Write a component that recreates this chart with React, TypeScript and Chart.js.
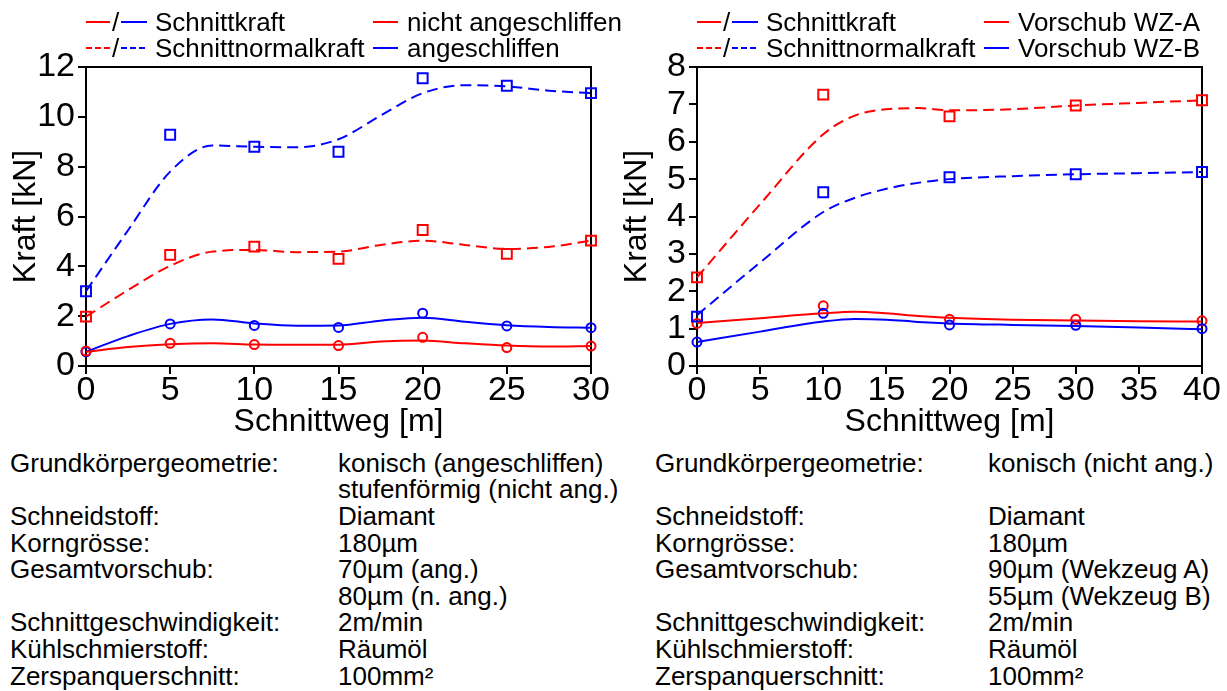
import React, { useEffect, useRef } from "react";
import { Chart, registerables } from "chart.js";

Chart.register(...registerables);

const RED = "#ff0000";
const BLUE = "#0000ff";
const FONT = "'Liberation Sans', Arial, Helvetica, sans-serif";

// ---- Linkes Diagramm: angeschliffen / nicht angeschliffen ----
const xLeft = [0, 5, 10, 15, 20, 25, 30];
const normalAng = [3.0, 9.28, 8.8, 8.6, 11.55, 11.25, 10.95];
const normalNichtAng = [1.98, 4.46, 4.79, 4.3, 5.46, 4.5, 5.03];
const schnittAng = [0.57, 1.69, 1.63, 1.55, 2.12, 1.61, 1.54];
const schnittNichtAng = [0.6, 0.91, 0.86, 0.82, 1.15, 0.74, 0.8];

// Ausgleichskurven (links)
const fitXLeft = [0, 2.5, 5, 7.5, 10, 12.5, 15, 17.5, 20, 22.5, 25, 27.5, 30];
const fitNormalAng = [3.0, 5.45, 7.8, 8.85, 8.8, 8.78, 9.1, 10.05, 10.95, 11.27, 11.22, 11.05, 10.95];
const fitNormalNichtAng = [1.98, 3.05, 4.02, 4.59, 4.66, 4.57, 4.59, 4.86, 5.03, 4.86, 4.7, 4.78, 5.03];
const fitSchnittAng = [0.57, 1.2, 1.69, 1.87, 1.71, 1.62, 1.63, 1.82, 1.94, 1.78, 1.64, 1.57, 1.54];
const fitSchnittNichtAng = [0.57, 0.76, 0.87, 0.91, 0.86, 0.85, 0.85, 0.98, 1.02, 0.91, 0.82, 0.78, 0.8];

// ---- Rechtes Diagramm: Vorschub WZ-A / WZ-B ----
const xRight = [0, 10, 20, 30, 40];
const normalA = [2.37, 7.26, 6.68, 6.97, 7.11];
const normalB = [1.32, 4.65, 5.05, 5.13, 5.19];
const schnittA = [1.14, 1.61, 1.25, 1.25, 1.21];
const schnittB = [0.64, 1.41, 1.1, 1.09, 1.0];

// Ausgleichskurven (rechts)
const fitXRight = [0, 5, 10, 12.5, 15, 17.5, 20, 25, 30, 35, 40];
const fitNormalA = [2.37, 4.33, 6.2, 6.7, 6.87, 6.9, 6.84, 6.87, 6.97, 7.04, 7.11];
const fitNormalB = [1.36, 2.77, 4.12, 4.5, 4.74, 4.9, 5.0, 5.08, 5.13, 5.16, 5.19];
const fitSchnittA = [1.15, 1.28, 1.41, 1.45, 1.41, 1.34, 1.29, 1.24, 1.22, 1.2, 1.19];
const fitSchnittB = [0.64, 0.92, 1.19, 1.26, 1.24, 1.18, 1.14, 1.1, 1.07, 1.03, 0.98];

// Achsen
const leftXMax = 30;
const leftYMax = 12;
const leftYStep = 2;
const rightXMax = 40;
const rightYMax = 8;
const rightYStep = 1;
const xStep = 5;
const xTitle = "Schnittweg [m]";
const yTitle = "Kraft [kN]";

// Legenden
const legendMain = ["Schnittkraft", "Schnittnormalkraft"];
const legendLeftSide = ["nicht angeschliffen", "angeschliffen"];
const legendRightSide = ["Vorschub WZ-A", "Vorschub WZ-B"];

// Versuchsbedingungen
const specsLeft: [string, string][] = [
  ["Grundkörpergeometrie:", "konisch (angeschliffen)"],
  ["", "stufenförmig (nicht ang.)"],
  ["Schneidstoff:", "Diamant"],
  ["Korngrösse:", "180µm"],
  ["Gesamtvorschub:", "70µm (ang.)"],
  ["", "80µm (n. ang.)"],
  ["Schnittgeschwindigkeit:", "2m/min"],
  ["Kühlschmierstoff:", "Räumöl"],
  ["Zerspanquerschnitt:", "100mm²"],
];
const specsRight: [string, string][] = [
  ["Grundkörpergeometrie:", "konisch (nicht ang.)"],
  ["", ""],
  ["Schneidstoff:", "Diamant"],
  ["Korngrösse:", "180µm"],
  ["Gesamtvorschub:", "90µm (Wekzeug A)"],
  ["", "55µm (Wekzeug B)"],
  ["Schnittgeschwindigkeit:", "2m/min"],
  ["Kühlschmierstoff:", "Räumöl"],
  ["Zerspanquerschnitt:", "100mm²"],
];

const pts = (xs: number[], ys: number[]) => xs.map((x, i) => ({ x, y: ys[i] }));

function curve(xs: number[], ys: number[], color: string, dashed: boolean) {
  return {
    data: pts(xs, ys),
    borderColor: color,
    borderWidth: 2,
    borderDash: dashed ? [11, 6] : [],
    pointRadius: 0,
    showLine: true,
    fill: false,
    cubicInterpolationMode: "monotone",
    clip: false,
  };
}

function markers(xs: number[], ys: number[], color: string, style: string) {
  return {
    data: pts(xs, ys),
    showLine: false,
    pointStyle: style,
    pointRadius: style === "rect" ? 7 : 4.5,
    pointBorderWidth: 2,
    pointBorderColor: color,
    pointBackgroundColor: "rgba(0,0,0,0)",
    borderColor: color,
    clip: false,
  };
}

const framePlugin = {
  id: "frame",
  beforeDatasetsDraw(chart: any) {
    const { ctx, chartArea } = chart;
    const { left, top, right, bottom } = chartArea;
    ctx.save();
    ctx.strokeStyle = "#000";
    ctx.lineWidth = 2;
    ctx.strokeRect(left, top, right - left, bottom - top);
    ctx.restore();
  },
};

const CANVAS_W = 615;
const CANVAS_H = 396;

function ForceChart(props: { datasets: any[]; xMax: number; yMax: number; yStep: number; left: number }) {
  const ref = useRef<HTMLCanvasElement | null>(null);
  useEffect(() => {
    if (!ref.current) return;
    const chart = new Chart(ref.current, {
      type: "line",
      data: { datasets: props.datasets },
      plugins: [framePlugin],
      options: {
        animation: false,
        responsive: false,
        devicePixelRatio: 1,
        layout: { padding: { top: 22, right: 24, bottom: 0, left: 0 } },
        plugins: { legend: { display: false }, tooltip: { enabled: false } },
        scales: {
          x: {
            type: "linear",
            min: 0,
            max: props.xMax,
            ticks: {
              stepSize: xStep,
              color: "#000",
              padding: 0,
              maxRotation: 0,
              autoSkip: false,
              font: { family: FONT, size: 34, lineHeight: 1 },
            },
            grid: { drawOnChartArea: false, drawTicks: true, tickLength: 8, color: "#000", lineWidth: 2 },
            border: { display: true, color: "#000", width: 2 },
            title: {
              display: true,
              text: xTitle,
              color: "#000",
              font: { family: FONT, size: 32, lineHeight: 1.2 },
              padding: { top: 0, bottom: 0 },
            },
            afterFit: (s: any) => {
              s.height = 75;
            },
          },
          y: {
            type: "linear",
            min: 0,
            max: props.yMax,
            ticks: {
              stepSize: props.yStep,
              color: "#000",
              padding: 3,
              font: { family: FONT, size: 34, lineHeight: 1 },
            },
            grid: { drawOnChartArea: false, drawTicks: true, tickLength: 8, color: "#000", lineWidth: 2 },
            border: { display: true, color: "#000", width: 2 },
            title: {
              display: true,
              text: yTitle,
              color: "#000",
              font: { family: FONT, size: 32, lineHeight: 1.2 },
              padding: { top: 7, bottom: 0 },
            },
            afterFit: (s: any) => {
              s.width = 86;
            },
          },
        },
      } as any,
    });
    return () => chart.destroy();
  }, []);
  return (
    <canvas
      ref={ref}
      width={CANVAS_W}
      height={CANVAS_H}
      style={{ position: "absolute", left: props.left, top: 45, width: CANVAS_W, height: CANVAS_H }}
    />
  );
}

function Swatch(props: { x: number; y: number; w: number; color: string; dashed?: boolean }) {
  const bg = props.dashed
    ? `repeating-linear-gradient(to right, ${props.color} 0px, ${props.color} 6px, transparent 6px, transparent 9px)`
    : props.color;
  return (
    <div style={{ position: "absolute", left: props.x, top: props.y - 1, width: props.w, height: 2, background: bg }} />
  );
}

function Label(props: { x: number; y: number; text: string; size?: number }) {
  return (
    <div
      style={{
        position: "absolute",
        left: props.x,
        top: props.y - 15,
        height: 30,
        lineHeight: "30px",
        fontSize: props.size ?? 26,
        whiteSpace: "nowrap",
      }}
    >
      {props.text}
    </div>
  );
}

function Legend(props: { ox: number; side: string[] }) {
  const rows = [22, 47.5];
  const ox = props.ox;
  return (
    <>
      {rows.map((cy, i) => (
        <React.Fragment key={i}>
          <Swatch x={ox + 86} y={cy} w={24} color={RED} dashed={i === 1} />
          <Label x={ox + 112} y={cy} text="/" />
          <Swatch x={ox + 121} y={cy} w={26} color={BLUE} dashed={i === 1} />
          <Label x={ox + 155} y={cy} text={legendMain[i]} />
          <Swatch x={ox + 373} y={cy} w={25} color={i === 0 ? RED : BLUE} />
          <Label x={ox + 407} y={cy} text={props.side[i]} />
        </React.Fragment>
      ))}
    </>
  );
}

function Specs(props: { rows: [string, string][]; labelX: number; valueX: number }) {
  const top0 = 449.7;
  const lh = 26.6;
  return (
    <>
      {props.rows.map((r, i) => (
        <React.Fragment key={i}>
          <div
            style={{
              position: "absolute",
              left: props.labelX,
              top: top0 + i * lh,
              height: lh,
              lineHeight: lh + "px",
              fontSize: 26,
              whiteSpace: "nowrap",
            }}
          >
            {r[0]}
          </div>
          <div
            style={{
              position: "absolute",
              left: props.valueX,
              top: top0 + i * lh,
              height: lh,
              lineHeight: lh + "px",
              fontSize: 26,
              whiteSpace: "nowrap",
            }}
          >
            {r[1]}
          </div>
        </React.Fragment>
      ))}
    </>
  );
}

export default function App() {
  const leftDatasets = [
    curve(fitXLeft, fitSchnittNichtAng, RED, false),
    curve(fitXLeft, fitNormalNichtAng, RED, true),
    curve(fitXLeft, fitSchnittAng, BLUE, false),
    curve(fitXLeft, fitNormalAng, BLUE, true),
    markers(xLeft, schnittNichtAng, RED, "circle"),
    markers(xLeft, normalNichtAng, RED, "rect"),
    markers(xLeft, schnittAng, BLUE, "circle"),
    markers(xLeft, normalAng, BLUE, "rect"),
  ];
  const rightDatasets = [
    curve(fitXRight, fitSchnittB, BLUE, false),
    curve(fitXRight, fitNormalB, BLUE, true),
    curve(fitXRight, fitSchnittA, RED, false),
    curve(fitXRight, fitNormalA, RED, true),
    markers(xRight, schnittB, BLUE, "circle"),
    markers(xRight, normalB, BLUE, "rect"),
    markers(xRight, schnittA, RED, "circle"),
    markers(xRight, normalA, RED, "rect"),
  ];
  return (
    <div
      style={{
        position: "absolute",
        left: 0,
        top: 0,
        width: 1227,
        height: 691,
        background: "#fff",
        color: "#000",
        fontFamily: FONT,
        overflow: "hidden",
      }}
    >
      <ForceChart datasets={leftDatasets} xMax={leftXMax} yMax={leftYMax} yStep={leftYStep} left={0} />
      <ForceChart datasets={rightDatasets} xMax={rightXMax} yMax={rightYMax} yStep={rightYStep} left={611} />
      <Legend ox={0} side={legendLeftSide} />
      <Legend ox={611} side={legendRightSide} />
      <Specs rows={specsLeft} labelX={10} valueX={338} />
      <Specs rows={specsRight} labelX={655} valueX={988} />
    </div>
  );
}
